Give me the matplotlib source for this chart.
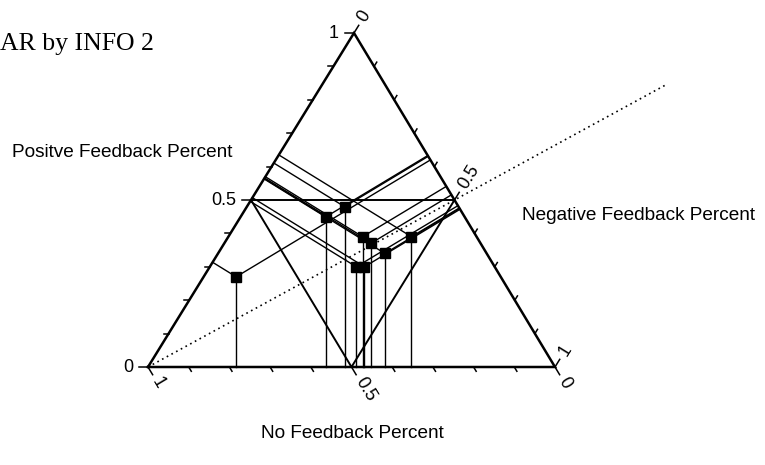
import numpy as np
import matplotlib
matplotlib.use("Agg")
import matplotlib.pyplot as plt

# ---------------- data (ternary fractions) ----------------
positive = [0.27, 0.45, 0.48, 0.39, 0.37, 0.34, 0.30, 0.30, 0.39]
negative = [0.08, 0.21, 0.24, 0.33, 0.36, 0.41, 0.36, 0.38, 0.45]
no_fb    = [0.65, 0.34, 0.28, 0.28, 0.27, 0.25, 0.34, 0.32, 0.16]

tick_vals = [0, 0.5, 1]
tick_labels = ["0", "0.5", "1"]
title = "AR by INFO 2"
label_pos = "Positve Feedback Percent"
label_neg = "Negative Feedback Percent"
label_no = "No Feedback Percent"

# ---------------- layout ----------------
W, H = 765, 465
fig = plt.figure(figsize=(W / 100, H / 100), dpi=100)
ax = fig.add_axes([0, 0, 1, 1])
ax.set_xlim(0, W)
ax.set_ylim(H, 0)
ax.axis("off")

BL = np.array([148.0, 367.0])   # No feedback = 1
BR = np.array([555.0, 367.0])   # Negative = 1
TP = np.array([354.0, 33.0])    # Positive = 1


def tern(no, neg, pos):
    return no * BL + neg * BR + pos * TP


def foot(p, a, b):
    d = b - a
    t = np.dot(p - a, d) / np.dot(d, d)
    return a + t * d


sans = "Liberation Sans"
black = "black"

# triangle
tri = np.array([BL, BR, TP, BL])
ax.plot(tri[:, 0], tri[:, 1], color=black, lw=1.8, solid_joinstyle="miter", zorder=3)

# medial triangle
mL = tern(0.5, 0, 0.5)
mR = tern(0, 0.5, 0.5)
mB = tern(0.5, 0.5, 0)
med = np.array([mL, mR, mB, mL])
ax.plot(med[:, 0], med[:, 1], color=black, lw=1.4, zorder=3)

# dotted line Pos = Neg, extended beyond triangle
ext = 1.69
pe = tern(1 - ext, ext / 2, ext / 2)
ax.plot([BL[0], pe[0]], [BL[1], pe[1]], color=black, lw=1.2,
        linestyle=(0, (1, 2.2)), zorder=3)

# guide lines and points
for no, ng, ps in zip(no_fb, negative, positive):
    p = tern(no, ng, ps)
    for a, b in [(BL, BR), (BL, TP), (TP, BR)]:
        f = foot(p, a, b)
        ax.plot([p[0], f[0]], [p[1], f[1]], color=black, lw=1.0, zorder=4)
for no, ng, ps in zip(no_fb, negative, positive):
    p = tern(no, ng, ps)
    ax.plot(p[0], p[1], marker="s", ms=7, color=black, zorder=6)

# ticks
ul = (TP - BL) / np.linalg.norm(TP - BL)        # left edge direction
ur = (BR - TP) / np.linalg.norm(BR - TP)        # right edge direction (down)
for k in range(11):
    v = k / 10
    major = k in (0, 5, 10)
    ln = 9 if major else 5
    # left axis (positive): horizontal ticks outward (left)
    p = tern(1 - v, 0, v)
    ax.plot([p[0] - ln, p[0]], [p[1], p[1]], color=black, lw=1.1, zorder=3)
    # bottom axis (no feedback): ticks parallel to right edge, outward
    p = tern(v, 1 - v, 0)
    ax.plot([p[0], p[0] + ur[0] * ln], [p[1], p[1] + ur[1] * ln], color=black, lw=1.1, zorder=3)
    # right axis (negative): ticks parallel to left edge, outward
    p = tern(0, v, 1 - v)
    ax.plot([p[0], p[0] + ul[0] * ln], [p[1], p[1] + ul[1] * ln], color=black, lw=1.1, zorder=3)

ang_b = -np.degrees(np.arctan2(ur[1], ur[0]))   # rotation for bottom labels
ang_r = -np.degrees(np.arctan2(ul[1], ul[0]))   # rotation for right labels

fs_t = 13
for v, s in zip(tick_vals, tick_labels):
    # left
    p = tern(1 - v, 0, v)
    ax.text(p[0] - 15, p[1], s, ha="right", va="center", fontsize=fs_t, family=sans)
    # bottom
    p = tern(v, 1 - v, 0) + ur * 14
    ax.text(p[0], p[1], s, ha="left", va="center", rotation=ang_b,
            rotation_mode="anchor", fontsize=fs_t, family=sans)
    # right
    p = tern(0, v, 1 - v) + ul * 15
    ax.text(p[0], p[1], s, ha="left", va="center", rotation=ang_r,
            rotation_mode="anchor", fontsize=fs_t, family=sans)

# axis titles
fs_l = 13.7
ax.text(12, 152, label_pos, ha="left", va="center", fontsize=fs_l, family=sans)
ax.text(522, 215, label_neg, ha="left", va="center", fontsize=fs_l, family=sans)
ax.text(352, 433, label_no, ha="center", va="center", fontsize=fs_l, family=sans)

# title (serif)
ax.text(0, 50, title, ha="left", va="baseline", fontsize=18.5, family="Liberation Serif")

fig.savefig("out.png", dpi=100)
